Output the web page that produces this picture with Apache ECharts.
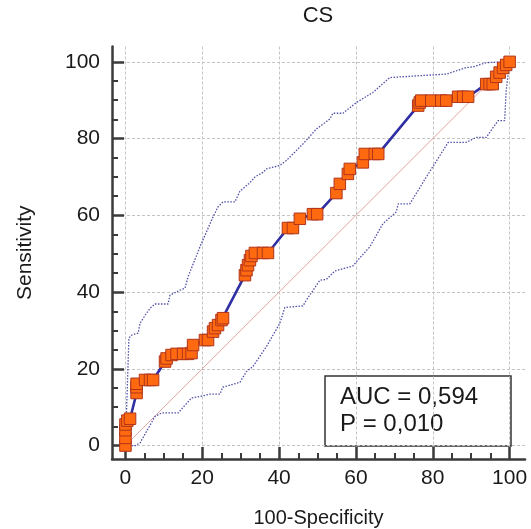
<!DOCTYPE html>
<html>
<head>
<meta charset="utf-8">
<script src="https://cdn.jsdelivr.net/npm/echarts@6/dist/echarts.min.js"></script>
<style>html,body{margin:0;padding:0;background:#fff}#c{width:531px;height:529px}</style>
</head>
<body>
<div id="c"></div>
<script>
// ROC curve points (100-Specificity, Sensitivity)
var rocX = [0,0,0,0,0.5,1.2, 2.9,2.9,2.9, 5.1,6.4,7.2, 10.3,10.7,12,13.3,15,16.3,17.2, 17.6,20.7,21.5, 22.8,23.3,24.1,25,25.4, 31.1,31.5,31.9,32.4,32.8,33.7,35.8,37.1, 42.3,43.6,45.4,48.8,49.9, 54.9,55.8,57.9,58.4,61.8,62.3,64.9,65.8, 76.2,76.6,77,79.6,82.2,83.5, 86.6,87.9,89.2, 93.9,94.8,95.6,96.5,97.4,98.3,99.1,100];
var rocY = [0,2,4,5.5,6.5,7, 13.7,15.2,16.1, 17.1,17.1,17.1, 21.9,22.7,23.6,23.9,23.9,23.9,24.1, 26.2,27.5,27.5, 29.7,30.6,31.4,32.7,33.2, 44.4,45.7,47,48.3,49.4,50.2,50.2,50.2, 56.7,56.7,59.1,60.3,60.3, 65.8,68.2,70.8,72.1,73.8,76,76,76, 88.6,89.4,89.9,89.9,89.9,89.9, 90.9,90.9,90.9, 94.2,94.2,94.2,96.1,97.2,98.4,99.2,100];
// Upper confidence bound
var upX = [0,0.9,1.6,3.3,3.8,5.5,6.4,7.7,11.1,11.6,14.2,15.5,16.3,19.4,22.8,24.1,25.4,28.5,29.8,32.4,33.7,35.8,36.7,40.2,41.9,46.2,49.7,53.2,54,56.6,60.1,64.4,68.8,69.2,76.6,83.5,88.7,90.5,93.9,99.1,100];
var upY = [0,28,28.8,29.3,31.9,34.5,35.8,36.9,36.9,39.2,40.5,41,44,51.8,59.6,62.2,63.5,63.5,66.3,68.5,70,71.2,72.1,73,74.3,78.6,82.5,85.1,86.6,86.6,89.4,92,95.9,96.4,96.4,96.8,98.5,98.7,99.8,100,100];
// Lower confidence bound
var loX = [0,2.6,3.8,7.7,9.4,13.7,17.2,19.4,22,24.6,25.3,29.8,31.5,33.2,36.7,40.2,41.5,46.2,47.1,50.6,52.3,54.5,59.2,60.1,63.6,67,70.5,71,74,76.2,78,84,88.7,91.3,93.9,97,98.7,99.1,100];
var loY = [0,0,0.7,7.6,8.5,8.5,12.4,12.8,13.4,13.4,15.2,16.5,19.3,20.6,25.8,31.9,36,36.4,37.9,43.1,43.3,45.5,46.8,47.9,51.8,57.8,60.9,63,63,66.5,69.5,79,79,80.3,80.3,84.7,84.7,92.5,100];
// Reference diagonal
var diagX = [0,100];
var diagY = [0,100];
var majorTicks = [0,20,40,60,80,100];
var minorTicks = [5,10,15,25,30,35,45,50,55,65,70,75,85,90,95];
var titleText = 'CS';
var xName = '100-Specificity';
var yName = 'Sensitivity';
var aucText = 'AUC = 0,594';
var pText = 'P = 0,010';

function pairs(xs, ys){ return xs.map(function(x,i){ return [x, ys[i]]; }); }

var FONT = '"Liberation Sans", Arial, sans-serif';
var TXT = '#1a1a1a';
var AX = '#3a3a3a';
var axMin = -3.5, axMax = 104;

function mainAxis(isX){
  return {
    type: 'value', min: axMin, max: axMax,
    position: isX ? 'bottom' : 'left',
    name: isX ? xName : yName,
    nameLocation: 'middle',
    nameGap: isX ? 49 : 76,
    nameTextStyle: { fontFamily: FONT, fontSize: isX ? 20 : 21, color: TXT },
    axisLine: { show: true, onZero: false, lineStyle: { color: AX, width: 2.5 } },
    axisTick: { show: true, inside: true, length: 12, customValues: majorTicks, lineStyle: { color: AX, width: 2.5 } },
    axisLabel: { customValues: majorTicks, fontFamily: FONT, fontSize: 21, color: TXT, margin: isX ? 9 : 12 },
    splitLine: { show: true, lineStyle: { color: '#c4c4c4', width: 1, type: [3, 2] } }
  };
}
function minorAxis(isX){
  return {
    type: 'value', min: axMin, max: axMax,
    position: isX ? 'bottom' : 'left',
    axisLine: { show: false, onZero: false },
    axisTick: { show: true, inside: true, length: 6, customValues: minorTicks, lineStyle: { color: AX, width: 2 } },
    axisLabel: { show: false },
    splitLine: { show: false }
  };
}

var chart = echarts.init(document.getElementById('c'), null, { renderer: 'canvas' });
chart.setOption({
  animation: false,
  backgroundColor: '#fff',
  title: { text: titleText, left: 313, top: 0, textAlign: 'center',
    textStyle: { fontFamily: FONT, fontSize: 22, fontWeight: 'normal', color: TXT } },
  grid: { left: 112, right: 6, top: 46.5, bottom: 70, outerBoundsMode: 'none', containLabel: false },
  xAxis: [mainAxis(true), minorAxis(true)],
  yAxis: [mainAxis(false), minorAxis(false)],
  series: [
    { type: 'line', data: pairs(diagX, diagY), symbol: 'none', silent: true,
      lineStyle: { color: '#e2a4a4', width: 1 }, z: 2 },
    { type: 'line', data: pairs(upX, upY), symbol: 'none', silent: true,
      lineStyle: { color: '#5050a8', width: 1.3, type: [1.5, 1.5] }, z: 3 },
    { type: 'line', data: pairs(loX, loY), symbol: 'none', silent: true,
      lineStyle: { color: '#5050a8', width: 1.3, type: [1.5, 1.5] }, z: 3 },
    { type: 'line', data: pairs(rocX, rocY), symbol: 'rect', symbolSize: 11.5, showAllSymbol: true,
      lineStyle: { color: '#3030a4', width: 2.6 },
      itemStyle: { color: '#ff6a10', borderColor: '#b0341c', borderWidth: 1 }, z: 5 }
  ],
  graphic: [
    { type: 'group', z: 100, children: [
      { type: 'rect', shape: { x: 325, y: 376, width: 186, height: 70 },
        style: { fill: '#fff', stroke: '#333', lineWidth: 1.5 } },
      { type: 'text', x: 340, y: 397, style: { text: aucText, font: '24px ' + FONT, fill: TXT, verticalAlign: 'middle' } },
      { type: 'text', x: 340, y: 424, style: { text: pText, font: '24px ' + FONT, fill: TXT, verticalAlign: 'middle' } }
    ]}
  ]
});
</script>
</body>
</html>
